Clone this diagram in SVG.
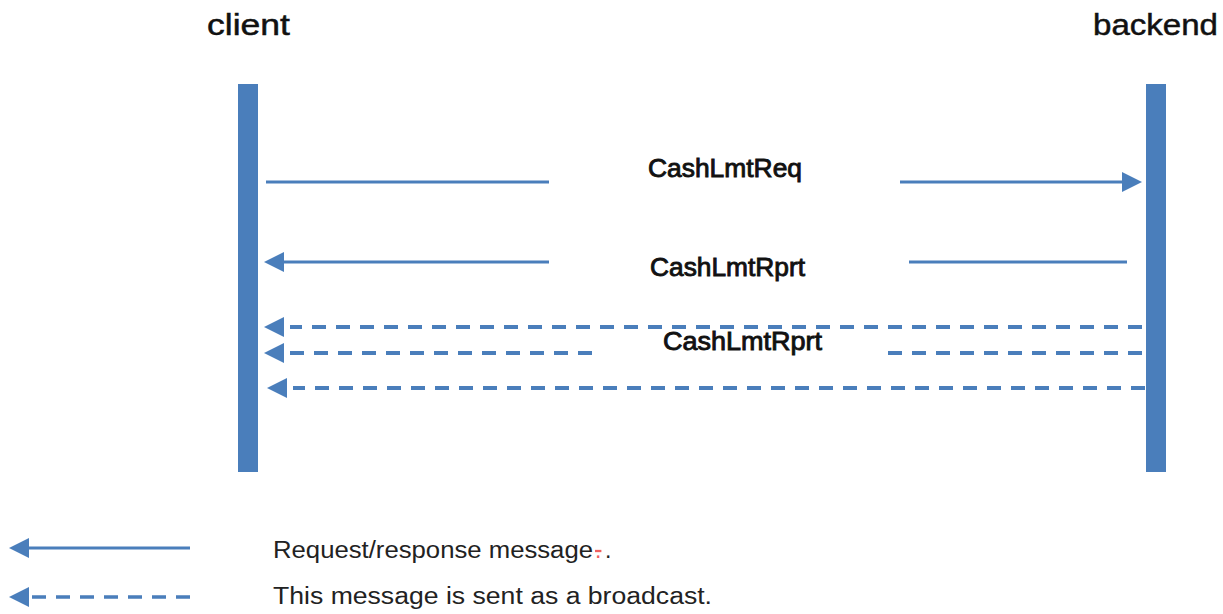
<svg xmlns="http://www.w3.org/2000/svg" xmlns:xlink="http://www.w3.org/1999/xlink" width="1223" height="614" viewBox="0 0 1223 614">
<style>
  .bar { fill: #4a7ebb; }
  .msg { stroke: #4a7ebb; stroke-width: 3; fill: none; }
  .bc { stroke: #4a7ebb; stroke-width: 4; fill: none; stroke-dasharray: 14 10; }
  .head { fill: #4a7ebb; }
  .title { font-family: "Liberation Sans", Arial, sans-serif; font-size: 30px; fill: #111; stroke: #111; stroke-width: 0.5; }
  .label { font-family: "Liberation Sans", Arial, sans-serif; font-size: 26px; fill: #111; stroke: #111; stroke-width: 0.9; }
  .legend { font-family: "Liberation Sans", Arial, sans-serif; font-size: 23px; fill: #222; }
</style>
<defs>
  <path id="arrowL" d="M0,0 L20,-10 L20,10 Z"/>
  <path id="arrowR" d="M0,0 L-20,-10 L-20,10 Z"/>
</defs>
<rect width="1223" height="614" fill="#fff"/>

<g id="client">
  <text class="title" x="207" y="35" textLength="83" lengthAdjust="spacingAndGlyphs">client</text>
  <rect class="bar" x="238" y="84" width="20" height="388"/>
</g>
<g id="backend">
  <text class="title" x="1093" y="35" textLength="125" lengthAdjust="spacingAndGlyphs">backend</text>
  <rect class="bar" x="1146" y="84" width="20" height="388"/>
</g>

<g id="connectors">
  <line class="msg" x1="266" y1="182" x2="549" y2="182"/>
  <line class="msg" x1="900" y1="182" x2="1124" y2="182"/>
  <use xlink:href="#arrowR" x="1142" y="182" class="head"/>
  <line class="msg" x1="282" y1="262" x2="549" y2="262"/>
  <use xlink:href="#arrowL" x="264" y="262" class="head"/>
  <line class="msg" x1="909" y1="262" x2="1127" y2="262"/>
  <line class="bc" x1="1142" y1="327" x2="290" y2="327"/>
  <use xlink:href="#arrowL" x="264" y="327" class="head"/>
  <line class="bc" x1="1142" y1="353" x2="888" y2="353"/>
  <line class="bc" x1="592" y1="353" x2="290" y2="353"/>
  <use xlink:href="#arrowL" x="264" y="353" class="head"/>
  <line class="bc" x1="1145" y1="388" x2="293" y2="388"/>
  <use xlink:href="#arrowL" x="267" y="388" class="head"/>
</g>

<g id="labels">
  <text class="label" x="648" y="177" textLength="154" lengthAdjust="spacingAndGlyphs">CashLmtReq</text>
  <text class="label" x="650" y="276" textLength="155" lengthAdjust="spacingAndGlyphs">CashLmtRprt</text>
  <text class="label" x="663" y="350" textLength="159" lengthAdjust="spacingAndGlyphs">CashLmtRprt</text>
</g>

<g id="legend">
  <line class="msg" x1="28" y1="548" x2="190" y2="548"/>
  <use xlink:href="#arrowL" x="9" y="548" class="head"/>
  <line class="bc" x1="190" y1="597" x2="32" y2="597" style="stroke-width:3.5"/>
  <use xlink:href="#arrowL" x="9" y="597" class="head"/>
  <text class="legend" x="273" y="558" textLength="320" lengthAdjust="spacingAndGlyphs">Request/response message</text>
  <text class="legend" x="595" y="558" style="fill:#f06060;text-decoration:line-through">.</text>
  <text class="legend" x="605" y="558">.</text>
  <text class="legend" x="273" y="604" textLength="439" lengthAdjust="spacingAndGlyphs">This message is sent as a broadcast.</text>
</g>
</svg>
